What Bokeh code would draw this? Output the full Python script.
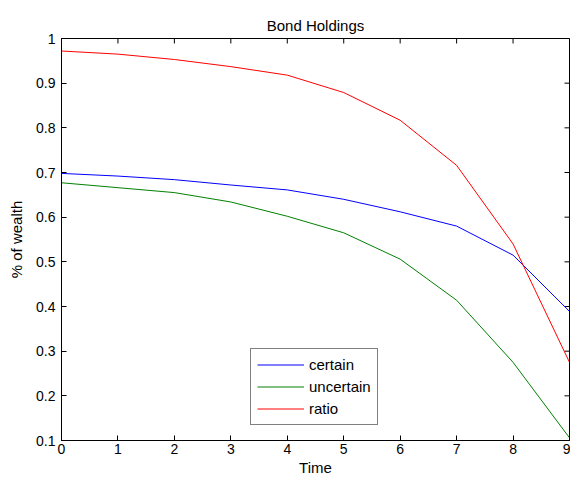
import math
from bokeh.plotting import figure
from bokeh.models import Range1d, FixedTicker, Legend, LegendItem
from bokeh.embed import file_html
from bokeh.resources import INLINE

time = [0, 1, 2, 3, 4, 5, 6, 7, 8, 9]
certain = [0.698, 0.692, 0.684, 0.672, 0.661, 0.640, 0.612, 0.580, 0.515, 0.389]
uncertain = [0.677, 0.666, 0.655, 0.634, 0.602, 0.565, 0.506, 0.414, 0.275, 0.106]
ratio = [0.972, 0.965, 0.953, 0.937, 0.918, 0.879, 0.817, 0.716, 0.540, 0.275]

x_ticks = [0, 1, 2, 3, 4, 5, 6, 7, 8, 9]
y_ticks = [0.1, 0.2, 0.3, 0.4, 0.5, 0.6, 0.7, 0.8, 0.9, 1.0]
y_tick_labels = ["0.1", "0.2", "0.3", "0.4", "0.5", "0.6", "0.7", "0.8", "0.9", "1"]
x_min, x_max = 0, 9
y_min, y_max = 0.1, 1.0

FONT = "Liberation Sans"
NUM_FS = "14px"
TXT_FS = "15px"

p = figure(width=570, height=478, output_backend="svg", toolbar_location=None,
           x_range=Range1d(x_min, x_max), y_range=Range1d(y_min, y_max),
           min_border_left=61, min_border_right=1, min_border_top=38, min_border_bottom=38)

p.title.text = "Bond Holdings"
p.title.align = "center"
p.title.text_font = FONT
p.title.text_font_size = TXT_FS
p.title.text_font_style = "normal"
p.title.text_color = "black"
p.title.standoff = 10

p.xgrid.visible = False
p.ygrid.visible = False
p.outline_line_color = "black"
p.outline_line_width = 1
p.outline_line_alpha = 1.0

def style_axis(ax, ticks):
    ax.ticker = FixedTicker(ticks=ticks)
    ax.major_tick_in = 5
    ax.major_tick_out = 0
    ax.minor_tick_in = 0
    ax.minor_tick_out = 0
    ax.axis_line_color = "black"
    ax.major_tick_line_color = "black"
    ax.major_label_text_font = FONT
    ax.major_label_text_font_size = NUM_FS
    ax.major_label_text_color = "black"
    ax.axis_label_text_font = FONT
    ax.axis_label_text_font_size = TXT_FS
    ax.axis_label_text_font_style = "normal"
    ax.axis_label_text_color = "black"

style_axis(p.xaxis[0], x_ticks)
p.xaxis[0].axis_label = "Time"
p.xaxis[0].major_label_standoff = 3
p.xaxis[0].axis_label_standoff = 2

style_axis(p.yaxis[0], y_ticks)
p.yaxis[0].axis_label = "% of wealth"
p.yaxis[0].major_label_standoff = 6
p.yaxis[0].axis_label_standoff = 8
p.yaxis[0].major_label_overrides = dict(zip(y_ticks, y_tick_labels))

# inward tick marks on the top and right edges of the box (half of each dash is clipped by the frame)
p.scatter(x_ticks, [y_max] * len(x_ticks), marker="dash", size=10, angle=math.pi / 2,
          line_color="black", line_width=1)
p.scatter([x_max] * len(y_ticks), y_ticks, marker="dash", size=10,
          line_color="black", line_width=1)

r1 = p.line(time, certain, line_color="#0000ff", line_width=1)
r2 = p.line(time, uncertain, line_color="#008000", line_width=1)
r3 = p.line(time, ratio, line_color="#ff0000", line_width=1)

legend = Legend(items=[LegendItem(label="certain", renderers=[r1]),
                       LegendItem(label="uncertain", renderers=[r2]),
                       LegendItem(label="ratio", renderers=[r3])],
                location=(189, 15), padding=6, spacing=3, margin=0,
                glyph_width=47, glyph_height=19, label_height=19, label_standoff=5,
                label_text_font=FONT, label_text_font_size=TXT_FS, label_text_color="black",
                border_line_color="black", border_line_width=1,
                background_fill_alpha=1.0)
p.add_layout(legend, "center")

open("out.html", "w").write(file_html(p, INLINE))
